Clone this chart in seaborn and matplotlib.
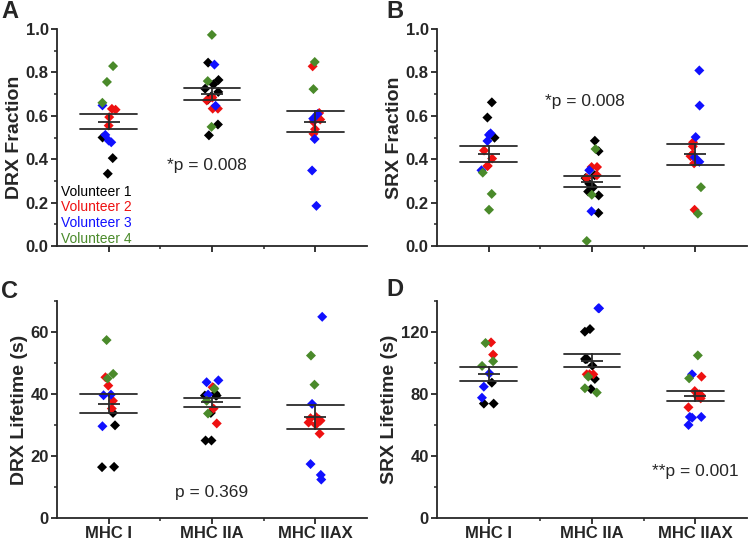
import numpy as np
import pandas as pd
import matplotlib
matplotlib.use("Agg")
import matplotlib.pyplot as plt
import seaborn as sns

# ---------------- data ----------------
categories = ["MHC I", "MHC IIA", "MHC IIAX"]
volunteers = ["Volunteer 1", "Volunteer 2", "Volunteer 3", "Volunteer 4"]
vol_colors = ["#000000", "#ee1111", "#1010ff", "#4a8a2a"]

# A: DRX fraction
drx_frac_mhc1 = {"Volunteer 1": [0.50, 0.405, 0.333],
                 "Volunteer 2": [0.632, 0.628, 0.594, 0.555],
                 "Volunteer 3": [0.648, 0.512, 0.486, 0.478],
                 "Volunteer 4": [0.829, 0.756, 0.660]}
drx_frac_mhc2a = {"Volunteer 1": [0.51, 0.56, 0.674, 0.69, 0.71, 0.725, 0.745, 0.765, 0.845],
                  "Volunteer 2": [0.633, 0.633, 0.671, 0.684],
                  "Volunteer 3": [0.646, 0.836],
                  "Volunteer 4": [0.549, 0.760, 0.973]}
drx_frac_mhc2ax = {"Volunteer 1": [],
                   "Volunteer 2": [0.517, 0.538, 0.573, 0.583, 0.613, 0.828],
                   "Volunteer 3": [0.185, 0.348, 0.493, 0.587, 0.608],
                   "Volunteer 4": [0.723, 0.848]}

# B: SRX fraction
srx_frac_mhc1 = {"Volunteer 1": [0.662, 0.592, 0.499],
                 "Volunteer 2": [0.440, 0.403, 0.369, 0.369],
                 "Volunteer 3": [0.519, 0.512, 0.484, 0.349],
                 "Volunteer 4": [0.338, 0.240, 0.167]}
srx_frac_mhc2a = {"Volunteer 1": [0.485, 0.437, 0.326, 0.313, 0.287, 0.271, 0.251, 0.233, 0.152],
                  "Volunteer 2": [0.364, 0.364, 0.326, 0.313],
                  "Volunteer 3": [0.349, 0.160],
                  "Volunteer 4": [0.447, 0.236, 0.023]}
srx_frac_mhc2ax = {"Volunteer 1": [],
                   "Volunteer 2": [0.478, 0.459, 0.422, 0.414, 0.381, 0.167],
                   "Volunteer 3": [0.809, 0.647, 0.502, 0.409, 0.388],
                   "Volunteer 4": [0.271, 0.149]}

# C: DRX lifetime (s)
drx_life_mhc1 = {"Volunteer 1": [33.9, 29.9, 16.4, 16.5],
                 "Volunteer 2": [45.4, 42.7, 37.8, 35.3],
                 "Volunteer 3": [39.6, 39.8, 29.6],
                 "Volunteer 4": [57.4, 46.5, 45.0]}
drx_life_mhc2a = {"Volunteer 1": [42.0, 40.2, 39.5, 39.5, 39.5, 33.9, 25.0, 25.0],
                  "Volunteer 2": [42.2, 35.3, 30.5],
                  "Volunteer 3": [44.4, 43.8, 39.8],
                  "Volunteer 4": [41.7, 37.8, 33.7]}
drx_life_mhc2ax = {"Volunteer 1": [],
                   "Volunteer 2": [32.5, 32.2, 31.7, 31.4, 30.8, 30.1, 27.2],
                   "Volunteer 3": [64.9, 36.8, 17.4, 13.9, 12.4],
                   "Volunteer 4": [52.4, 43.0]}

# D: SRX lifetime (s)
srx_life_mhc1 = {"Volunteer 1": [87.3, 73.8, 73.8],
                 "Volunteer 2": [113.3, 105.4],
                 "Volunteer 3": [93.3, 84.7, 77.6],
                 "Volunteer 4": [112.9, 101.1, 98.1]}
srx_life_mhc2a = {"Volunteer 1": [120.2, 121.9, 102.6, 102.6, 102.6, 98.3, 89.7, 83.2],
                  "Volunteer 2": [92.7, 92.7, 92.7],
                  "Volunteer 3": [135.3, 135.3],
                  "Volunteer 4": [91.2, 83.7, 80.9]}
srx_life_mhc2ax = {"Volunteer 1": [],
                   "Volunteer 2": [91.2, 81.9, 79.8, 79.4, 78.9, 77.2, 71.4],
                   "Volunteer 3": [92.7, 64.7, 65.2, 65.2, 60.0],
                   "Volunteer 4": [104.9, 90.1]}

panel_letters = ["A", "B", "C", "D"]
y_labels = ["DRX Fraction", "SRX Fraction", "DRX Lifetime (s)", "SRX Lifetime (s)"]
p_texts = ["*p = 0.008", "*p = 0.008", "p = 0.369", "**p = 0.001"]


def build_df(per_cat):
    rows = []
    for cat, d in zip(categories, per_cat):
        for vol in volunteers:
            for v in d[vol]:
                rows.append({"cat": cat, "vol": vol, "val": v})
    return pd.DataFrame(rows)


panels = [
    build_df([drx_frac_mhc1, drx_frac_mhc2a, drx_frac_mhc2ax]),
    build_df([srx_frac_mhc1, srx_frac_mhc2a, srx_frac_mhc2ax]),
    build_df([drx_life_mhc1, drx_life_mhc2a, drx_life_mhc2ax]),
    build_df([srx_life_mhc1, srx_life_mhc2a, srx_life_mhc2ax]),
]

# ---------------- styling ----------------
sns.set_style("ticks")
plt.rcParams["font.family"] = ["Liberation Sans", "DejaVu Sans"]
plt.rcParams["axes.linewidth"] = 1.3

fig = plt.figure(figsize=(7.5, 5.42), dpi=100)
W, H = 750.0, 542.0
axes_px = [(57, 29), (437, 29), (57, 301), (437, 301)]  # left, top in px
ax_w, ax_h = 310, 217

ylims = [(0, 1.0), (0, 1.0), (0, 70), (0, 140)]
yticks_major = [np.arange(0, 1.01, 0.2), np.arange(0, 1.01, 0.2),
                np.arange(0, 61, 20), np.arange(0, 121, 40)]
yticks_minor = [np.arange(0.1, 1.0, 0.2), np.arange(0.1, 1.0, 0.2),
                np.arange(10, 71, 20), np.arange(20, 141, 40)]
ytick_fmt = ["{:.1f}", "{:.1f}", "{:.0f}", "{:.0f}"]
p_pos = [(0.95, 0.37), (0.93, 0.667), (1.0, 8.3), (2.0, 30.0)]
letter_px = [(10, 12), (395, 12), (10, 292), (395, 289)]

palette = dict(zip(volunteers, vol_colors))
np.random.seed(7)

for i, df in enumerate(panels):
    l, t = axes_px[i]
    ax = fig.add_axes([l / W, 1 - (t + ax_h) / H, ax_w / W, ax_h / H])
    sns.stripplot(data=df, x="cat", y="val", hue="vol", order=categories,
                  hue_order=volunteers, palette=palette, jitter=0.07,
                  marker="D", size=5.1, linewidth=0, legend=False, ax=ax,
                  zorder=2)
    sns.pointplot(data=df, x="cat", y="val", order=categories, errorbar="se",
                  capsize=0.55, color="#2b2b2b", marker="_", markersize=16,
                  markeredgewidth=1.3, linestyle="none",
                  err_kws={"linewidth": 1.3}, ax=ax, zorder=3)
    ax.set_xlim(-0.5, 2.5)
    ax.set_ylim(*ylims[i])
    ax.set_xticks(range(len(categories)))
    ax.set_xticklabels(categories if i >= 2 else [""] * 3)
    ax.set_xticks([0.5, 1.5], minor=True)
    ax.set_yticks(yticks_major[i])
    ax.set_yticklabels([ytick_fmt[i].format(v) for v in yticks_major[i]])
    ax.set_yticks(yticks_minor[i], minor=True)
    ax.tick_params(which="major", direction="out", length=4, width=1.3,
                   labelsize=12, pad=2)
    ax.tick_params(which="minor", direction="out", length=2.5, width=1.1)
    for lab in ax.get_xticklabels() + ax.get_yticklabels():
        lab.set_fontweight("bold")
    ax.set_xlabel("")
    ax.set_ylabel(y_labels[i], fontsize=14, fontweight="bold", labelpad=2)
    sns.despine(ax=ax)
    ax.text(p_pos[i][0], p_pos[i][1], p_texts[i], ha="center", va="center",
            fontsize=12.5)
    fig.text(letter_px[i][0] / W, 1 - letter_px[i][1] / H, panel_letters[i],
             fontsize=17, fontweight="bold", ha="center", va="center")

# volunteer legend in panel A
axA = fig.axes[0]
leg_y = [0.25, 0.178, 0.104, 0.03]
for name, col, yy in zip(volunteers, vol_colors, leg_y):
    axA.text(-0.46, yy, name, color=col, fontsize=10, ha="left", va="center")

fig.savefig("out.png", dpi=100)
